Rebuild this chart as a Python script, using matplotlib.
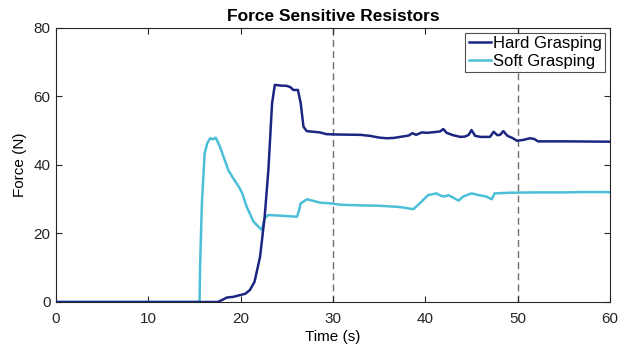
import matplotlib
matplotlib.use("Agg")
from matplotlib import pyplot as plt

# Hard grasping trace (time s, force N)
hard_t = [0, 17.5, 18.0, 18.5, 19.2, 19.9, 20.5, 21.0, 21.5, 22.1, 22.6, 23.0, 23.4,
          23.7, 24.3, 25.0, 25.4, 25.7, 26.2, 26.5, 26.8, 27.15, 28.6, 29.3, 30.5,
          33.0, 34.0, 35.0, 35.8, 36.6, 37.5, 38.2, 38.6, 39.0, 39.6, 40.2, 41.0,
          41.6, 41.95, 42.3, 43.0, 43.8, 44.3, 44.7, 45.0, 45.4, 46.0, 47.0, 47.4,
          47.8, 48.1, 48.45, 48.9, 49.5, 49.9, 50.6, 51.3, 51.8, 52.2, 55.0, 60.0]
hard_f = [0, 0, 0.6, 1.3, 1.5, 2.0, 2.4, 3.5, 5.9, 13.2, 24.9, 38.5, 58.0,
          63.4, 63.2, 63.1, 62.7, 61.9, 61.9, 58.1, 51.2, 49.9, 49.5, 49.0, 48.9,
          48.8, 48.5, 48.0, 47.8, 47.9, 48.3, 48.6, 49.3, 48.8, 49.5, 49.4, 49.6,
          49.8, 50.5, 49.4, 48.7, 48.2, 48.3, 48.8, 50.2, 48.5, 48.2, 48.2, 49.7,
          48.7, 48.8, 49.9, 48.5, 47.8, 47.1, 47.3, 47.8, 47.6, 46.9, 46.9, 46.8]

# Soft grasping trace
soft_t = [0, 15.55, 15.6, 15.8, 16.1, 16.4, 16.7, 17.0, 17.3, 17.76, 18.2, 18.66,
          19.2, 19.9, 20.2, 20.65, 21.4, 22.0, 22.3, 22.6, 23.0, 24.3, 26.1, 26.3,
          26.5, 27.2, 28.6, 29.7, 30.8, 33.0, 35.0, 36.9, 37.6, 38.2, 38.7, 39.4,
          40.3, 41.2, 41.7, 42.1, 42.5, 43.0, 43.6, 44.1, 45.0, 45.8, 46.6, 47.2,
          47.5, 48.3, 49.2, 52.0, 55.0, 57.0, 59.6, 60.0]
soft_f = [0, 0, 10.0, 28.9, 43.4, 46.5, 47.8, 47.5, 48.0, 45.3, 42.0, 38.5,
          36.1, 33.2, 31.5, 27.8, 23.4, 21.8, 21.0, 24.5, 25.4, 25.2, 24.9, 26.5,
          28.8, 30.0, 29.0, 28.8, 28.4, 28.2, 28.1, 27.8, 27.6, 27.3, 27.1, 28.8,
          31.2, 31.7, 31.0, 30.8, 31.2, 30.5, 29.6, 30.8, 31.7, 31.2, 30.8, 30.0,
          31.7, 31.8, 31.9, 32.0, 32.0, 32.1, 32.1, 32.0]

markers_t = [30, 50]

plt.rcParams["font.family"] = ["Liberation Sans", "DejaVu Sans"]

fig = plt.figure(figsize=(6.41, 3.49), dpi=100)
ax = fig.add_axes([0.0874, 0.1347, 0.8642, 0.7851])

for t in markers_t:
    ax.axvline(t, color="#707070", linestyle=(0, (5, 3)), linewidth=1.0, zorder=1)

ax.plot(hard_t, hard_f, color="#1c2580", linewidth=1.8, label="Hard Grasping", zorder=3)
ax.plot(soft_t, soft_f, color="#4bbfd8", linewidth=1.8, label="Soft Grasping", zorder=2)

ax.set_xlim(0, 60)
ax.set_ylim(0, 80)
ax.set_xticks(range(0, 61, 10))
ax.set_yticks(range(0, 81, 20))
ax.tick_params(direction="in", top=True, right=True, labelsize=11, colors="#262626",
               length=4, width=0.8)
ax.tick_params(axis="x", pad=7)
ax.tick_params(axis="y", pad=4)
for s in ax.spines.values():
    s.set_color("#262626")
    s.set_linewidth(0.8)

ax.set_title("Force Sensitive Resistors", fontsize=12.5, fontweight="bold", pad=5)
ax.set_xlabel("Time (s)", fontsize=11, labelpad=3)
ax.set_ylabel("Force (N)", fontsize=11, labelpad=5)

leg = ax.legend(loc="upper right", fontsize=12, frameon=True, fancybox=False,
                borderpad=0.2, handlelength=1.35, handletextpad=0.1, labelspacing=0.15,
                borderaxespad=0.3)
leg.get_frame().set_edgecolor("#262626")
leg.get_frame().set_linewidth(0.8)

fig.savefig("out.png", dpi=100)
